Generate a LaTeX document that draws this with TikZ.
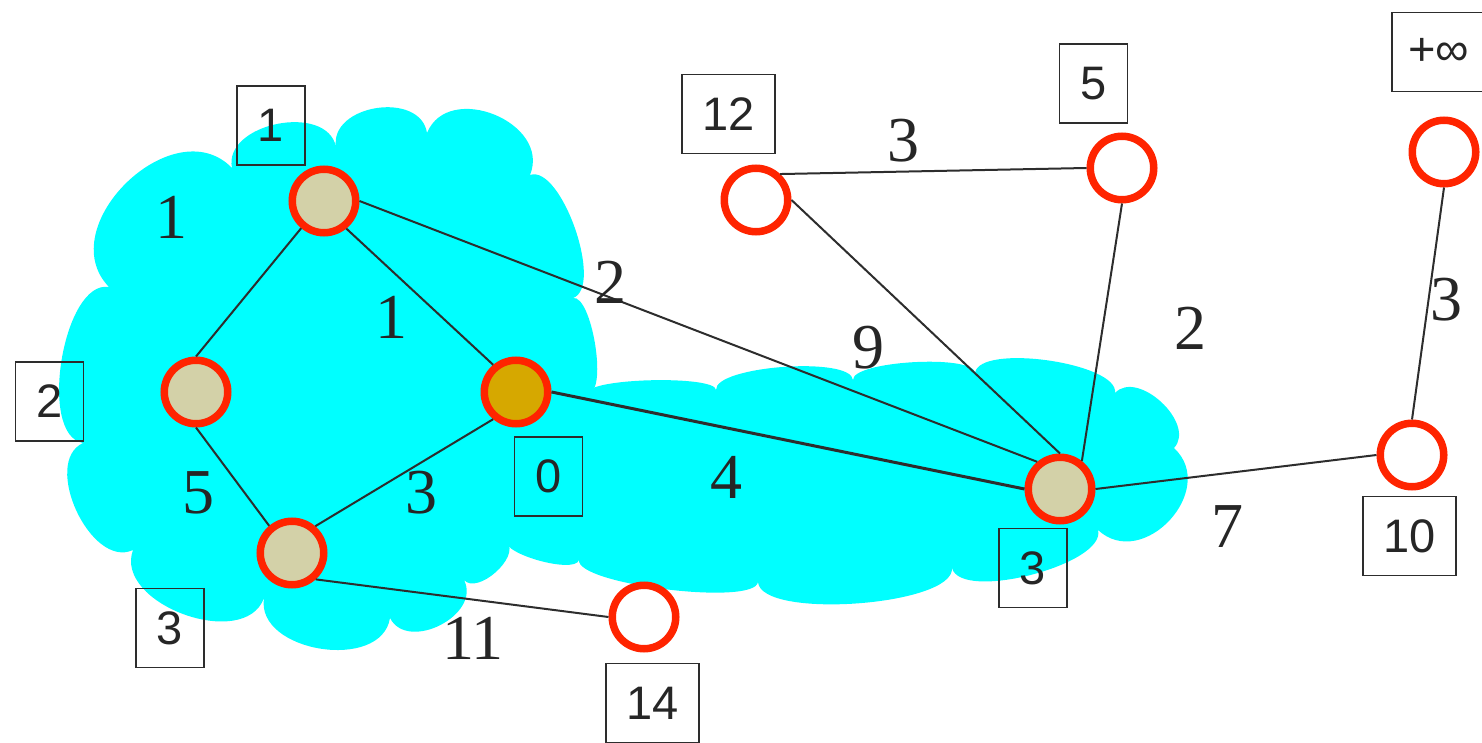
\documentclass[tikz,border=0pt]{standalone}
\usepackage{fontspec}
\setmainfont{Liberation Serif}
\newfontfamily\boxfont{Liberation Sans}
\definecolor{ringred}{RGB}{255,36,0}
\definecolor{tanfill}{RGB}{211,209,168}
\definecolor{goldfill}{RGB}{214,168,0}
\definecolor{aqua}{RGB}{0,255,255}
\definecolor{edgegray}{RGB}{45,45,45}
\begin{document}
\begin{tikzpicture}[x=0.5pt,y=-0.5pt,
  cloud/.style={fill=aqua,draw=none},
  bl/.style={bend left=90,looseness=#1},
  vtx/.style={circle,draw=ringred,line width=3.75pt,minimum size=31.75pt,inner sep=0pt,fill=white},
  done/.style={vtx,fill=tanfill},
  src/.style={vtx,fill=goldfill},
  edge/.style={draw=edgegray,line width=1pt},
  distbox/.style={draw=edgegray,line width=0.9pt,minimum width=34pt,minimum height=39.5pt,inner sep=0pt,font=\boxfont\fontsize{23.5}{26}\selectfont,text=black!85},
  widebox/.style={distbox,minimum width=46.5pt},
  wlabel/.style={inner sep=0pt,font=\fontsize{32}{36}\selectfont,text=black!85}
]
\clip (0,0) rectangle (1482,743);
% clouds
\fill[cloud] (133,550) to[bl=1.0] (83,443) to[bl=0.75] (109,287) to[bl=1.25] (232,168)
  to[bl=1.1] (336,147) to[bl=1.2] (427,133) to[bl=1.3] (530,175) to[bl=0.65] (573,298)
  to[bl=0.5] (589,393) -- (507,542) to[bl=0.9] (464,580) to[bl=1.2] (390,618)
  to[bl=1.1] (264,598) to[bl=1.05] (133,550) -- cycle;
\fill[cloud] (588,393) to[bl=0.3] (716,390) to[bl=0.45] (853,380) to[bl=0.4] (975,373)
  to[bl=0.55] (1115,393) to[bl=1.05] (1174,448) to[bl=1.4] (1098,530) to[bl=0.6] (952,568)
  to[bl=0.5] (758,582) to[bl=0.35] (579,560) to[bl=0.5] (506,540) -- (540,420) -- cycle;
% edges (drawn first, vertices on top)
\path (324,201) coordinate (pA) (196,392) coordinate (pB) (516,392) coordinate (pC)
      (292,553) coordinate (pD) (1060,489) coordinate (pE) (756,200) coordinate (pF)
      (1122,168) coordinate (pG) (1444,152) coordinate (pH) (1412,455) coordinate (pI)
      (644,617) coordinate (pJ);
\node[done] (A) at (pA) {};
\node[done] (B) at (pB) {};
\node[src]  (C) at (pC) {};
\node[done] (D) at (pD) {};
\node[done] (E) at (pE) {};
\node[vtx]  (F) at (pF) {};
\node[vtx]  (G) at (pG) {};
\node[vtx]  (H) at (pH) {};
\node[vtx]  (I) at (pI) {};
\node[vtx]  (J) at (pJ) {};
\draw[edge] (A.230) -- (B.north);
\draw[edge] (A.309) -- (C.130);
\draw[edge] (A.east) -- (E.130);
\draw[edge] (B.south) -- (D.130);
\draw[edge] (C.230) -- (D.49);
\draw[edge,line width=1.5pt] (C.east) -- (E.west);
\draw[edge] (D.312) -- (J.west);
\draw[edge] (F.47) -- (G.west);
\draw[edge] (F.east) -- (E.north);
\draw[edge] (G.south) -- (E.52);
\draw[edge] (E.east) -- (I.west);
\draw[edge] (I.north) -- (H.south);
% distance boxes
\node[distbox] (dA) at (271,125.5) {1};
\node[distbox] (dB) at (49.5,401.5) {2};
\node[distbox] (dC) at (548.5,476.5) {0};
\node[distbox] (dD) at (170,628) {3};
\node[distbox] (dE) at (1033,568) {3};
\node[widebox] (dF) at (728.5,114) {12};
\node[distbox] (dG) at (1093.5,83.5) {5};
\node[widebox] (dH) at (1438.5,52) {+∞};
\node[widebox] (dI) at (1409.5,536) {10};
\node[widebox] (dJ) at (652.5,703) {14};
% weights
\node[wlabel] (wAB) at (171,217) {1};
\node[wlabel] (wAC) at (391,317) {1};
\node[wlabel] (wAE) at (610,282) {2};
\node[wlabel] (wFE) at (868,348) {9};
\node[wlabel] (wGE) at (1190,328) {2};
\node[wlabel] (wFG) at (903,141) {3};
\node[wlabel] (wIH) at (1446,300) {3};
\node[wlabel] (wCE) at (726,477) {4};
\node[wlabel] (wBD) at (198,493) {5};
\node[wlabel] (wCD) at (421,493) {3};
\node[wlabel] (wDJ) at (473,638) {11};
\node[wlabel] (wEI) at (1227,527) {7};
\end{tikzpicture}
\end{document}
